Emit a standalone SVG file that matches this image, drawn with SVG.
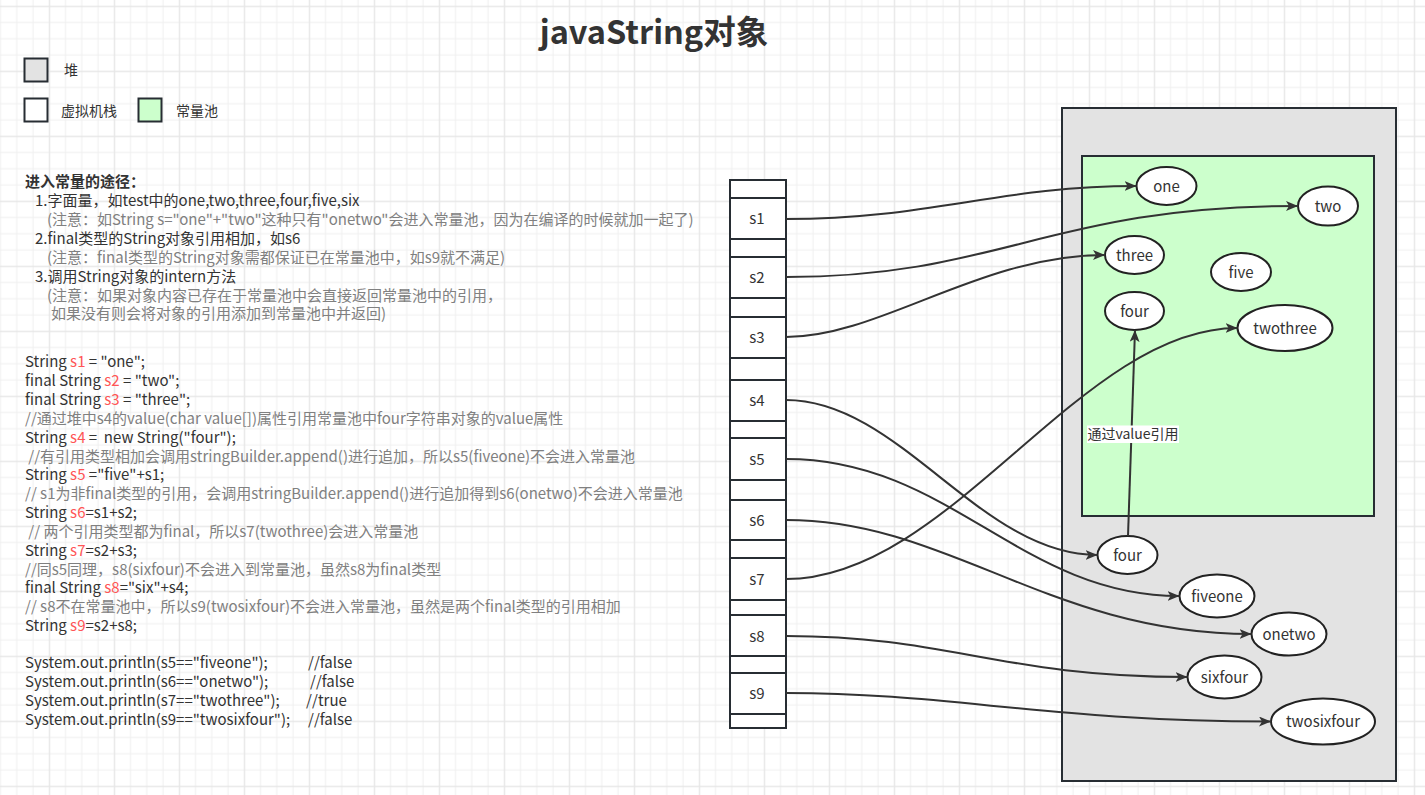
<svg xmlns="http://www.w3.org/2000/svg" width="1425" height="795" viewBox="0 0 1425 795">
<defs>
<pattern id="grid" width="65" height="65" patternUnits="userSpaceOnUse" x="48.75" y="5.7">
<rect width="65" height="65" fill="#ffffff"/>
<rect x="16.25" y="0" width="1" height="65" fill="#f0f0f0"/>
<rect x="32.5" y="0" width="1" height="65" fill="#f0f0f0"/>
<rect x="48.75" y="0" width="1" height="65" fill="#f0f0f0"/>
<rect x="0" y="16.25" width="65" height="1" fill="#f0f0f0"/>
<rect x="0" y="32.5" width="65" height="1" fill="#f0f0f0"/>
<rect x="0" y="48.75" width="65" height="1" fill="#f0f0f0"/>
<rect x="0" y="0" width="1.3" height="65" fill="#e6e6e6"/>
<rect x="0" y="0" width="65" height="1.3" fill="#e6e6e6"/>
</pattern>
<marker id="arr" markerUnits="userSpaceOnUse" markerWidth="14" markerHeight="12" refX="12" refY="5" orient="auto">
<path d="M0,0 L12,5 L0,10 L3,5 z" fill="#333333"/>
</marker>
<style>
text{font-family:"Noto Sans CJK SC","Noto Sans",sans-serif;}
.box{stroke:#272d33;stroke-width:2;}
.cell{fill:#ffffff;stroke:#272d33;stroke-width:2;}
.ell{fill:#ffffff;stroke:#222222;stroke-width:2;}
.lbl{font-size:15px;fill:#333333;text-anchor:middle;}
.conn{fill:none;stroke:#333333;stroke-width:2;marker-end:url(#arr);}
.t{font-size:15px;fill:#333333;white-space:pre;}
.g{fill:#808080;}
.r{fill:#ff5555;}
.leg{font-size:14px;fill:#333333;}
</style>
</defs>
<rect width="1425" height="795" fill="url(#grid)"/>

<g id="title"><text x="654" y="44" font-size="32.5" font-weight="bold" fill="#333333" text-anchor="middle">javaString对象</text></g>

<g id="legend">
<rect class="box" x="24.5" y="58.5" width="23" height="23" fill="#e3e3e3"/>
<text class="leg" x="64" y="75">堆</text>
<rect class="box" x="24.5" y="98.5" width="23" height="23" fill="#ffffff"/>
<text class="leg" x="61" y="116">虚拟机栈</text>
<rect class="box" x="138.5" y="98.5" width="23" height="23" fill="#ccffcc"/>
<text class="leg" x="176" y="116">常量池</text>
</g>

<g id="notes">
<text class="t" x="25" y="186.5" font-weight="bold">进入常量的途径：</text>
<text class="t" x="35" y="205.5">1.字面量，如test中的one,two,three,four,five,six</text>
<text class="t g" x="47" y="224.5">(注意：如String s="one"+"two"这种只有"onetwo"会进入常量池，因为在编译的时候就加一起了)</text>
<text class="t" x="35" y="243.5">2.final类型的String对象引用相加，如s6</text>
<text class="t g" x="47" y="262.5">(注意：final类型的String对象需都保证已在常量池中，如s9就不满足)</text>
<text class="t" x="35" y="281.5">3.调用String对象的intern方法</text>
<text class="t g" x="47" y="300.5">(注意：如果对象内容已存在于常量池中会直接返回常量池中的引用，</text>
<text class="t g" x="51" y="318.5">如果没有则会将对象的引用添加到常量池中并返回)</text>
</g>

<g id="code">
<text class="t" x="25" y="366.5">String <tspan class="r">s1</tspan> = "one";</text>
<text class="t" x="25" y="385.5">final String <tspan class="r">s2</tspan> = "two";</text>
<text class="t" x="25" y="404.5">final String <tspan class="r">s3</tspan> = "three";</text>
<text class="t g" x="25" y="423.5">//通过堆中s4的value(char value[])属性引用常量池中four字符串对象的value属性</text>
<text class="t" x="25" y="442.5">String <tspan class="r">s4</tspan> =  new String("four");</text>
<text class="t g" x="25" y="461.5"> //有引用类型相加会调用stringBuilder.append()进行追加，所以s5(fiveone)不会进入常量池</text>
<text class="t" x="25" y="479.5">String <tspan class="r">s5</tspan> ="five"+s1;</text>
<text class="t g" x="25" y="498.5">// s1为非final类型的引用，会调用stringBuilder.append()进行追加得到s6(onetwo)不会进入常量池</text>
<text class="t" x="25" y="517.5">String <tspan class="r">s6</tspan>=s1+s2;</text>
<text class="t g" x="25" y="536.5"> // 两个引用类型都为final，所以s7(twothree)会进入常量池</text>
<text class="t" x="25" y="555.5">String <tspan class="r">s7</tspan>=s2+s3;</text>
<text class="t g" x="25" y="574.5">//同s5同理，s8(sixfour)不会进入到常量池，虽然s8为final类型</text>
<text class="t" x="25" y="592.5">final String <tspan class="r">s8</tspan>="six"+s4;</text>
<text class="t g" x="25" y="611.5">// s8不在常量池中，所以s9(twosixfour)不会进入常量池，虽然是两个final类型的引用相加</text>
<text class="t" x="25" y="630.5">String <tspan class="r">s9</tspan>=s2+s8;</text>
<text class="t" x="25" y="667.5">System.out.println(s5=="fiveone");<tspan x="308">//false</tspan></text>
<text class="t" x="25" y="686.5">System.out.println(s6=="onetwo");<tspan x="310">//false</tspan></text>
<text class="t" x="25" y="705.5">System.out.println(s7=="twothree");<tspan x="306">//true</tspan></text>
<text class="t" x="25" y="724.5">System.out.println(s9=="twosixfour");<tspan x="308">//false</tspan></text>
</g>

<g id="heap"><rect class="box" x="1062" y="108" width="334" height="673" fill="#e3e3e3"/></g>
<g id="pool"><rect class="box" x="1082" y="156" width="292" height="360" fill="#ccffcc"/></g>

<g id="stack">
<rect class="cell" x="730" y="180" width="56" height="18"/>
<g id="cell-s1"><rect class="cell" x="730" y="198" width="56" height="41"/><text class="lbl" x="757" y="223.5">s1</text></g>
<rect class="cell" x="730" y="239" width="56" height="18"/>
<g id="cell-s2"><rect class="cell" x="730" y="257" width="56" height="41"/><text class="lbl" x="757" y="282.5">s2</text></g>
<rect class="cell" x="730" y="298" width="56" height="19"/>
<g id="cell-s3"><rect class="cell" x="730" y="317" width="56" height="41"/><text class="lbl" x="757" y="342.5">s3</text></g>
<rect class="cell" x="730" y="358" width="56" height="22"/>
<g id="cell-s4"><rect class="cell" x="730" y="380" width="56" height="41"/><text class="lbl" x="757" y="405.5">s4</text></g>
<rect class="cell" x="730" y="421" width="56" height="17"/>
<g id="cell-s5"><rect class="cell" x="730" y="438" width="56" height="42"/><text class="lbl" x="757" y="464.5">s5</text></g>
<rect class="cell" x="730" y="480" width="56" height="20"/>
<g id="cell-s6"><rect class="cell" x="730" y="500" width="56" height="40"/><text class="lbl" x="757" y="525.5">s6</text></g>
<rect class="cell" x="730" y="540" width="56" height="18"/>
<g id="cell-s7"><rect class="cell" x="730" y="558" width="56" height="42"/><text class="lbl" x="757" y="584.5">s7</text></g>
<rect class="cell" x="730" y="600" width="56" height="15"/>
<g id="cell-s8"><rect class="cell" x="730" y="615" width="56" height="41"/><text class="lbl" x="757" y="641.5">s8</text></g>
<rect class="cell" x="730" y="656" width="56" height="17"/>
<g id="cell-s9"><rect class="cell" x="730" y="673" width="56" height="41"/><text class="lbl" x="757" y="698.5">s9</text></g>
<rect class="cell" x="730" y="714" width="56" height="14"/>
</g>

<g id="n-one"><ellipse class="ell" cx="1166.5" cy="186" rx="30" ry="19"/><text class="lbl" x="1166.5" y="191.5">one</text></g>
<g id="n-two"><ellipse class="ell" cx="1328" cy="206" rx="30" ry="19.5"/><text class="lbl" x="1328" y="211.5">two</text></g>
<g id="n-three"><ellipse class="ell" cx="1134.5" cy="255" rx="29.5" ry="19"/><text class="lbl" x="1134.5" y="260.5">three</text></g>
<g id="n-five"><ellipse class="ell" cx="1241" cy="272" rx="30" ry="19"/><text class="lbl" x="1241" y="277.5">five</text></g>
<g id="n-four-pool"><ellipse class="ell" cx="1134.5" cy="311" rx="29.5" ry="19"/><text class="lbl" x="1134.5" y="316.5">four</text></g>
<g id="n-twothree"><ellipse class="ell" cx="1285" cy="328" rx="47.5" ry="23"/><text class="lbl" x="1285" y="333.5">twothree</text></g>
<g id="n-four-heap"><ellipse class="ell" cx="1127.5" cy="555" rx="30" ry="19"/><text class="lbl" x="1127.5" y="560.5">four</text></g>
<g id="n-fiveone"><ellipse class="ell" cx="1217" cy="596" rx="37.5" ry="21.5"/><text class="lbl" x="1217" y="601.5">fiveone</text></g>
<g id="n-onetwo"><ellipse class="ell" cx="1289" cy="634" rx="37.5" ry="21.5"/><text class="lbl" x="1289" y="639.5">onetwo</text></g>
<g id="n-sixfour"><ellipse class="ell" cx="1224.5" cy="677" rx="37" ry="21.5"/><text class="lbl" x="1224.5" y="682.5">sixfour</text></g>
<g id="n-twosixfour"><ellipse class="ell" cx="1323" cy="721.5" rx="52" ry="23"/><text class="lbl" x="1323" y="727">twosixfour</text></g>

<g id="connectors">
<path class="conn" d="M786,219 C930,219 1000,186 1136.5,186"/>
<path class="conn" d="M786,277 C1000,277 1050,206 1298,206"/>
<path class="conn" d="M786,337 C880,337 980,255 1105,255"/>
<path class="conn" d="M786,400 C900,400 980,555 1097.5,555"/>
<path class="conn" d="M786,459 C950,459 1020,596 1179.5,596"/>
<path class="conn" d="M786,520 C950,520 1050,634 1251.5,634"/>
<path class="conn" d="M786,579 C950,579 1080,328 1237.5,328"/>
<path class="conn" d="M786,636 C950,636 1000,677 1187.5,677"/>
<path class="conn" d="M786,693 C950,693 1050,721.5 1271,721.5"/>
<path class="conn" d="M1128,536 L1135,330"/>
<g id="edge-label">
<rect x="1087" y="425.5" width="92" height="17.5" fill="#ffffff"/>
<text x="1133" y="439" font-size="14" fill="#333333" text-anchor="middle">通过value引用</text>
</g>
</g>
</svg>
